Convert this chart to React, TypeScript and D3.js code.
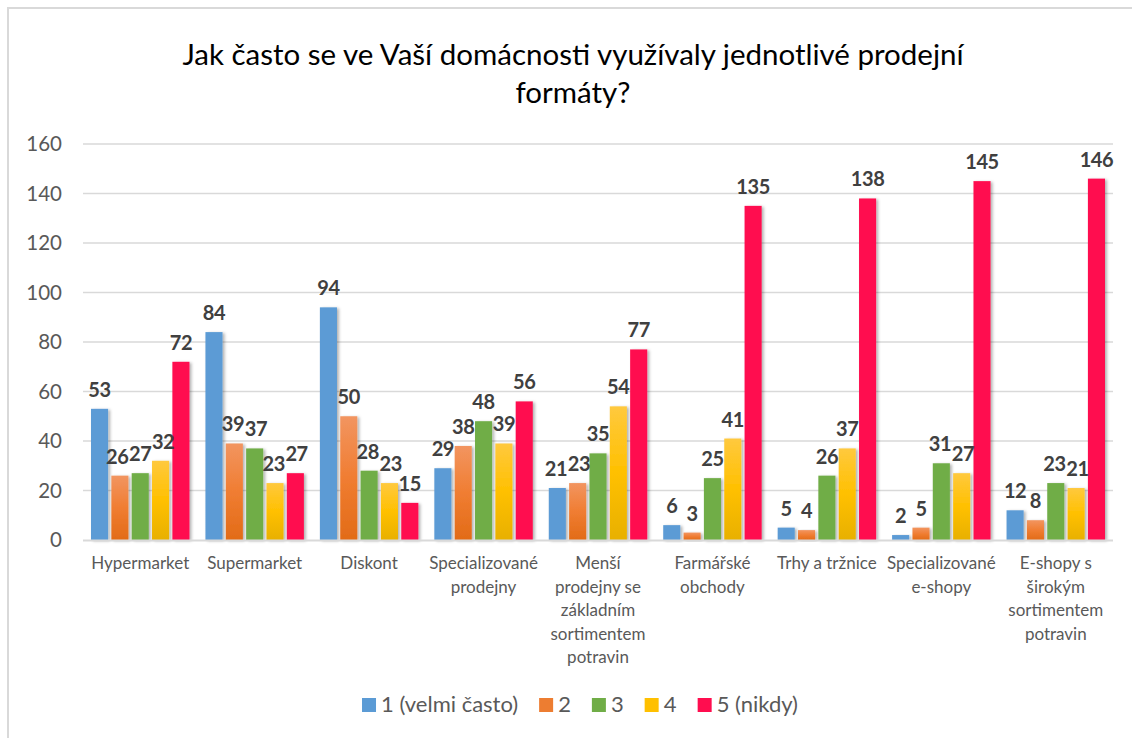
import React, { useRef, useEffect } from 'react';
import * as d3 from 'd3';

const categoryLines = [
  ['Hypermarket'],
  ['Supermarket'],
  ['Diskont'],
  ['Specializované', 'prodejny'],
  ['Menší', 'prodejny se', 'základním', 'sortimentem', 'potravin'],
  ['Farmářské', 'obchody'],
  ['Trhy a tržnice'],
  ['Specializované', 'e-shopy'],
  ['E-shopy s', 'širokým', 'sortimentem', 'potravin'],
];
const categories = categoryLines.map(l => l.join(' '));

const seriesNames = ['1 (velmi často)', '2', '3', '4', '5 (nikdy)'];
const velmiCasto = [53, 84, 94, 29, 21, 6, 5, 2, 12];
const dva = [26, 39, 50, 38, 23, 3, 4, 5, 8];
const tri = [27, 37, 28, 48, 35, 25, 26, 31, 23];
const ctyri = [32, 23, 23, 39, 54, 41, 37, 27, 21];
const nikdy = [72, 27, 15, 56, 77, 135, 138, 145, 146];
const seriesValues = [velmiCasto, dva, tri, ctyri, nikdy];

const yTicks = [0, 20, 40, 60, 80, 100, 120, 140, 160];

const titleLines = ['Jak často se ve Vaší domácnosti využívaly jednotlivé prodejní', 'formáty?'];

const W = 1132;
const H = 738;
const FONT = 'Lato, "Open Sans", sans-serif';

const App = () => {
  const ref = useRef<SVGSVGElement>(null);

  useEffect(() => {
    document.body.style.margin = '0';
    document.body.style.overflow = 'hidden';

    const margin = { top: 144, right: 19, bottom: 198, left: 83 };

    const x = d3.scaleBand()
      .domain(categories)
      .range([margin.left, W - margin.right])
      .padding(0);

    const inner = d3.scaleBand()
      .domain(seriesNames)
      .range([8, x.bandwidth() - 8])
      .paddingInner(0.16);

    const y = d3.scaleLinear()
      .domain([0, 160])
      .range([H - margin.bottom, margin.top]);

    const svg = d3.select(ref.current);
    svg.selectAll('*').remove();

    const defs = svg.append('defs');
    const grad = (id, stops) => {
      const g = defs.append('linearGradient').attr('id', id)
        .attr('x1', 0).attr('y1', 0).attr('x2', 0).attr('y2', 1);
      stops.forEach(([o, c]) => g.append('stop').attr('offset', o).attr('stop-color', c));
    };
    grad('g-blue', [[0, '#5b9bd5'], [1, '#5b9bd5']]);
    grad('g-orange', [[0, '#f29560'], [0.5, '#f07d32'], [1, '#e26b17']]);
    grad('g-green', [[0, '#70ad47'], [1, '#70ad47']]);
    grad('g-yellow', [[0, '#ffc93e'], [0.5, '#ffc000'], [1, '#e8b000']]);
    grad('g-red', [[0, '#ff0d4f'], [1, '#ff0d4f']]);
    const fills = ['url(#g-blue)', 'url(#g-orange)', 'url(#g-green)', 'url(#g-yellow)', 'url(#g-red)'];
    const legendColors = ['#5b9bd5', '#ed7d31', '#70ad47', '#ffc000', '#ff0d4f'];

    defs.append('filter').attr('id', 'shadow')
      .attr('x', '-30%').attr('y', '-10%').attr('width', '160%').attr('height', '130%')
      .append('feDropShadow')
      .attr('dx', 2).attr('dy', 1).attr('stdDeviation', 1.5)
      .attr('flood-color', '#000').attr('flood-opacity', 0.3);

    // background + border (only top/left visible in the crop)
    svg.append('rect').attr('width', W).attr('height', H).attr('fill', '#fff');
    svg.append('rect')
      .attr('x', 8).attr('y', 8).attr('width', W + 50).attr('height', H + 50)
      .attr('fill', 'none').attr('stroke', '#d9d9d9').attr('stroke-width', 2);

    // title
    svg.append('text')
      .attr('x', 573).attr('y', 65)
      .attr('text-anchor', 'middle')
      .attr('font-family', FONT).attr('font-size', 29.5).attr('fill', '#000')
      .selectAll('tspan')
      .data(titleLines)
      .join('tspan')
      .attr('x', 573)
      .attr('dy', (d, i) => (i === 0 ? 0 : 38))
      .text(d => d);

    // gridlines
    svg.append('g')
      .selectAll('line')
      .data(yTicks.filter(t => t > 0))
      .join('line')
      .attr('x1', margin.left).attr('x2', W - margin.right)
      .attr('y1', d => y(d)).attr('y2', d => y(d))
      .attr('stroke', '#d9d9d9').attr('stroke-width', 1.3);

    // y axis labels
    svg.append('g')
      .selectAll('text')
      .data(yTicks)
      .join('text')
      .attr('x', 62).attr('y', d => y(d))
      .attr('dy', '0.36em')
      .attr('text-anchor', 'end')
      .attr('font-family', FONT).attr('font-size', 20.5).attr('fill', '#595959')
      .text(d => d);

    // bars
    const groups = svg.append('g')
      .selectAll('g')
      .data(categories)
      .join('g')
      .attr('transform', d => `translate(${x(d)},0)`);

    groups.selectAll('rect')
      .data((d, ci) => seriesNames.map((s, si) => ({ s, si, v: seriesValues[si][ci] })))
      .join('rect')
      .attr('x', d => inner(d.s))
      .attr('y', d => y(d.v))
      .attr('width', inner.bandwidth())
      .attr('height', d => y(0) - y(d.v))
      .attr('fill', d => fills[d.si])
      .attr('filter', 'url(#shadow)');

    // baseline axis
    svg.append('line')
      .attr('x1', margin.left).attr('x2', W - margin.right)
      .attr('y1', y(0) + 0.5).attr('y2', y(0) + 0.5)
      .attr('stroke', '#d9d9d9').attr('stroke-width', 2);

    // data labels
    groups.selectAll('text.val')
      .data((d, ci) => seriesNames.map((s, si) => ({ s, si, v: seriesValues[si][ci] })))
      .join('text')
      .attr('class', 'val')
      .attr('x', d => inner(d.s) + inner.bandwidth() / 2)
      .attr('y', d => y(d.v) - 12)
      .attr('text-anchor', 'middle')
      .attr('font-family', FONT).attr('font-weight', 700)
      .attr('font-size', 20).attr('letter-spacing', -0.4).attr('fill', '#404040')
      .text(d => d.v);

    // nudge neighbouring labels apart when they collide
    groups.each(function () {
      const nodes = d3.select(this).selectAll('text.val').nodes() as SVGTextElement[];
      const boxes = nodes.map(n => {
        const b = n.getBBox();
        return { x: b.x, w: b.width, y: b.y + b.height * 0.2, h: b.height * 0.6, dx: 0 };
      });
      for (let iter = 0; iter < 6; iter++) {
        for (let i = 1; i < boxes.length; i++) {
          const a = boxes[i - 1];
          const b = boxes[i];
          if (a.y < b.y + b.h && b.y < a.y + a.h) {
            const ov = a.x + a.dx + a.w - (b.x + b.dx) + 0.5;
            if (ov > 0) {
              a.dx -= ov / 2;
              b.dx += ov / 2;
            }
          }
        }
      }
      nodes.forEach((n, i) => d3.select(n).attr('transform', `translate(${boxes[i].dx},0)`));
    });

    // category labels
    groups.append('text')
      .attr('x', x.bandwidth() / 2)
      .attr('y', 569)
      .attr('text-anchor', 'middle')
      .attr('font-family', FONT).attr('font-size', 17).attr('fill', '#595959')
      .selectAll('tspan')
      .data((d, i) => categoryLines[i])
      .join('tspan')
      .attr('x', x.bandwidth() / 2)
      .attr('dy', (d, i) => (i === 0 ? 0 : 23.5))
      .text(d => d);

    // legend
    const legend = svg.append('g');
    const items = legend.selectAll('g')
      .data(seriesNames)
      .join('g');
    items.append('rect')
      .attr('width', 14).attr('height', 14)
      .attr('y', -6)
      .attr('fill', (d, i) => legendColors[i]);
    items.append('text')
      .attr('x', 19).attr('dy', '0.36em')
      .attr('font-family', FONT).attr('font-size', 22).attr('fill', '#595959')
      .text(d => d);
    let cx = 0;
    const offsets = [];
    items.each(function () {
      const w = (this as SVGGElement).getBBox().width;
      offsets.push(cx);
      cx += w + 21;
    });
    const totalW = cx - 21;
    const startX = 580 - totalW / 2;
    items.attr('transform', (d, i) => `translate(${startX + offsets[i]},704)`);
  }, []);

  return (
    <svg
      ref={ref}
      width={W}
      height={H}
      style={{ position: 'absolute', left: 0, top: 0 }}
    />
  );
};

export default App;
